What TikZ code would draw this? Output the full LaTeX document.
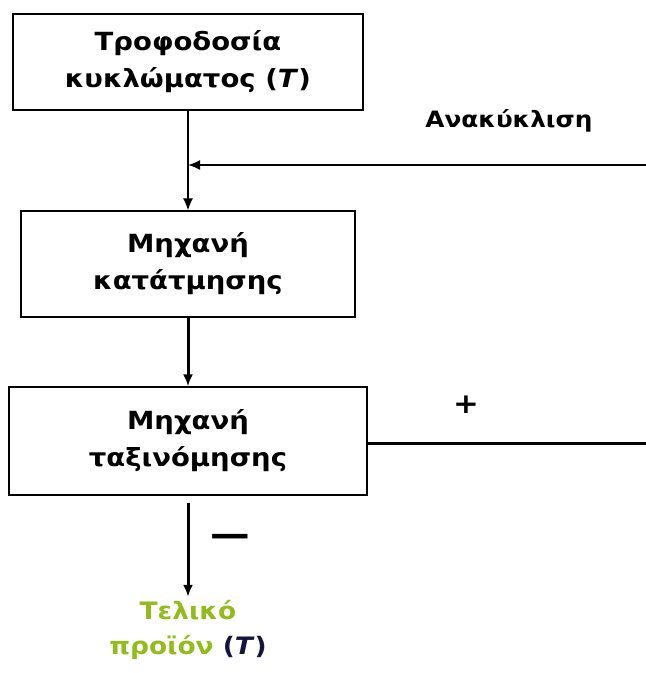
\documentclass[tikz,border=0pt]{standalone}
\usepackage{fontspec}
\setmainfont[FakeStretch=1.1]{DejaVu Sans}
\usepackage{tikz}
\usetikzlibrary{arrows.meta,positioning,calc}

\definecolor{prodgreen}{RGB}{146,188,28}
\definecolor{navyT}{RGB}{20,20,60}

\begin{document}
\begin{tikzpicture}[x=1pt,y=1pt,
    unit/.style={draw,line width=1.4pt,inner sep=0pt,align=center,
      font=\fontsize{25}{37}\selectfont\bfseries},
    flow/.style={-{Latex[length=12pt,width=10pt]}},
    lbl/.style={font=\fontsize{22.5}{35}\selectfont\bfseries}]
    \useasboundingbox (0,0) rectangle (646,-673);
    % machines
    \node[unit,minimum width=350pt,minimum height=96pt] (feed) at (188,-62)
      {Τροφοδοσία\\κυκλώματος (\textit{T})};
    \node[unit,minimum width=334pt,minimum height=106pt] (crusher) at (188,-264)
      {Μηχανή\\κατάτμησης};
    \node[unit,minimum width=358pt,minimum height=108pt] (sorter) at (188,-441)
      {Μηχανή\\ταξινόμησης};
    \node[lbl,align=center,text=prodgreen,font=\fontsize{24}{35}\selectfont\bfseries]
      (product) at (188,-630) {Τελικό\\προϊόν {\color{navyT}(\textit{T})}};
    % recycle loop
    \coordinate (recin) at (646,-165);
    \coordinate (recout) at (646,-443);
    \node[lbl] (recycle) at (509,-121) {Ανακύκλιση};
    \node[font=\fontsize{28}{28}\selectfont\bfseries] (plus) at (466,-405) {+};
    \node[font=\fontsize{36}{36}\selectfont\bfseries] (minus) at (230,-540) {—};
    \draw[flow,line width=1.3pt] (feed.south) -- (crusher.north);
    \draw[flow,line width=1.8pt] (recin) -- (recin -| feed.south);
    \draw[flow,line width=3pt] (crusher.south) -- (sorter.north);
    \draw[line width=3pt] (sorter.east |- recout) -- (recout);
    \draw[flow,line width=3pt] ([yshift=-7pt]sorter.south) -- (product.north);
\end{tikzpicture}
\end{document}
